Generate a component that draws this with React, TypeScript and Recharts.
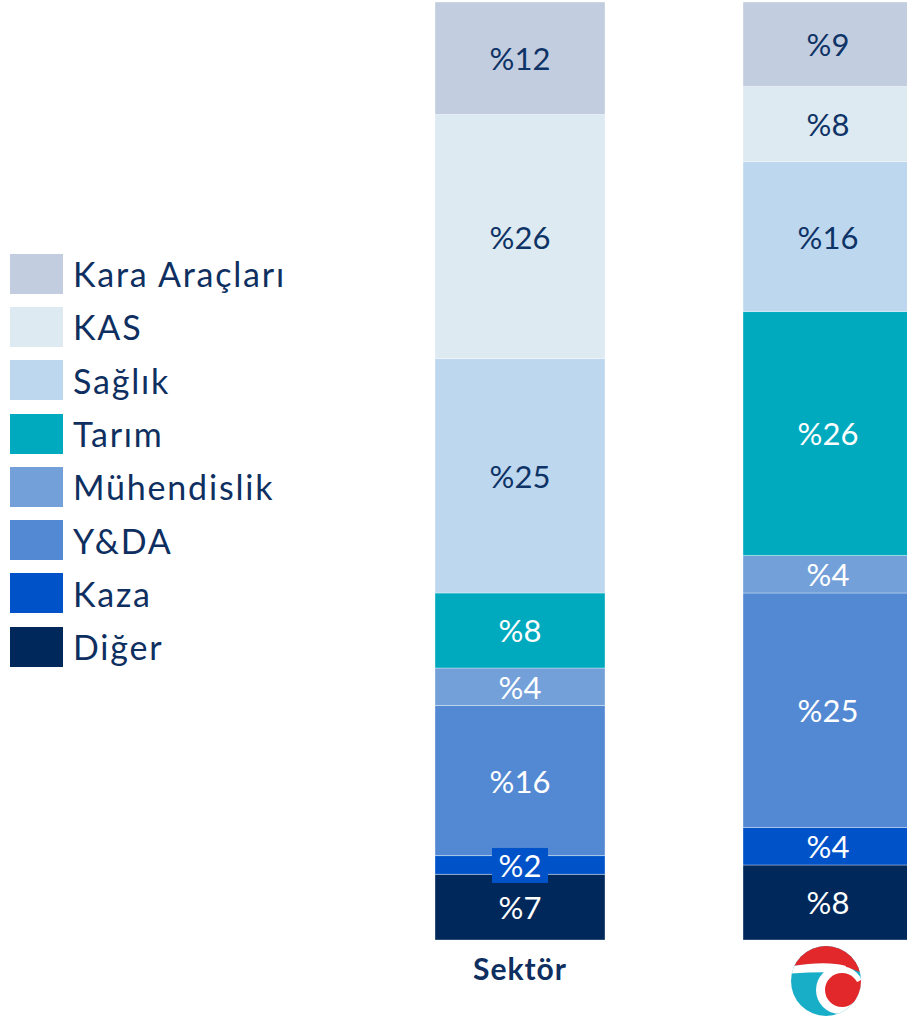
import * as React from 'react';
import { BarChart, Bar, XAxis, YAxis, LabelList } from 'recharts';

const categories = ['Sektör', 'Şirket'];

const diger = [7, 8];
const kaza = [2, 4];
const yda = [16, 25];
const muhendislik = [4, 4];
const tarim = [8, 26];
const saglik = [25, 16];
const kas = [26, 8];
const karaAraclari = [12, 9];

// stack order: bottom first
const series = [
  { key: 'diger', name: 'Diğer', values: diger, color: '#00285A', text: '#ffffff' },
  { key: 'kaza', name: 'Kaza', values: kaza, color: '#0052C9', text: '#ffffff' },
  { key: 'yda', name: 'Y&DA', values: yda, color: '#5389D3', text: '#ffffff' },
  { key: 'muh', name: 'Mühendislik', values: muhendislik, color: '#73A0D9', text: '#ffffff' },
  { key: 'tarim', name: 'Tarım', values: tarim, color: '#00AABE', text: '#ffffff' },
  { key: 'saglik', name: 'Sağlık', values: saglik, color: '#BDD7EE', text: '#0E3366' },
  { key: 'kas', name: 'KAS', values: kas, color: '#DDEAF1', text: '#0E3366' },
  { key: 'kara', name: 'Kara Araçları', values: karaAraclari, color: '#C3CDE0', text: '#0E3366' },
];

const data = categories.map((name, i) => {
  const row: any = { name };
  series.forEach((s) => {
    row[s.key] = s.values[i];
  });
  return row;
});

const FONT = 'Lato, "Open Sans", sans-serif';

const makeLabel = (color: string, text: string) => (props: any) => {
  const { x, y, width, height, value } = props;
  const cx = x + width / 2;
  const cy = y + height / 2;
  const small = height < 30;
  return (
    <g>
      {small && <rect x={cx - 28} y={cy - 17} width={56} height={35} fill={color} />}
      <text
        x={cx}
        y={cy}
        textAnchor="middle"
        dominantBaseline="central"
        fill={text}
        fontSize={31}
        fontFamily={FONT}
      >
        {'%' + value}
      </text>
    </g>
  );
};

const Logo = ({ cx, cy }: { cx: number; cy: number }) => {
  const red = '#E3282C';
  const teal = '#19AEC7';
  const a1 = (-28 * Math.PI) / 180;
  const a2 = (12 * Math.PI) / 180;
  return (
    <g transform={`translate(${cx},${cy})`}>
      <defs>
        <clipPath id="logoClip">
          <circle cx={0} cy={0} r={35} />
        </clipPath>
      </defs>
      <g clipPath="url(#logoClip)">
        <rect x={-40} y={-40} width={80} height={80} fill={teal} />
        <path d="M -40 -40 L 40 -40 L 40 -6 Q 10 -22 -40 -14 Z" fill={red} />
        <circle cx={14} cy={9} r={24} fill="#ffffff" />
        <path d="M -40 -14 Q 0 -21 20 -15 L 18 -8 Q -5 -10 -40 -7 Z" fill="#ffffff" />
        <circle cx={16} cy={9} r={17} fill={red} />
        <path
          d={`M 16 9 L ${16 + 40 * Math.cos(a1)} ${9 + 40 * Math.sin(a1)} L ${16 + 40 * Math.cos(a2)} ${9 + 40 * Math.sin(a2)} Z`}
          fill={red}
        />
      </g>
    </g>
  );
};

const Tick = (props: any) => {
  const { x, y, payload } = props;
  if (payload.value === 'Sektör') {
    return (
      <text
        x={x}
        y={y + 20}
        textAnchor="middle"
        dominantBaseline="central"
        fill="#0E2F5F"
        fontSize={30}
        fontWeight={700}
        letterSpacing={1}
        fontFamily={FONT}
      >
        {payload.value}
      </text>
    );
  }
  return <Logo cx={x - 2} cy={y + 33} />;
};

const LegendBox = () => (
  <div style={{ position: 'absolute', left: 10, top: 254, fontFamily: FONT }}>
    {[...series].reverse().map((s) => (
      <div key={s.key} style={{ display: 'flex', alignItems: 'center', height: 53.3 }}>
        <div style={{ width: 53, height: 40, background: s.color, marginTop: -14 }} />
        <span style={{ marginLeft: 10, fontSize: 34, letterSpacing: 1.8, color: '#0E2F5F', marginTop: -14 }}>{s.name}</span>
      </div>
    ))}
  </div>
);

export default function App() {
  return (
    <div style={{ position: 'absolute', left: 0, top: 0, width: 907, height: 1021, overflow: 'hidden', background: '#fff' }}>
      <LegendBox />
      <BarChart
        width={982}
        height={1021}
        data={data}
        margin={{ top: 2, right: 0, left: 366, bottom: 0 }}
        barSize={170}
      >
        <XAxis dataKey="name" axisLine={false} tickLine={false} height={81} tick={<Tick />} interval={0} />
        <YAxis hide domain={[0, 100]} />
        {series.map((s) => (
          <Bar
            key={s.key}
            dataKey={s.key}
            name={s.name}
            stackId="a"
            fill={s.color}
            stroke="rgba(255,255,255,0.35)"
            strokeWidth={1}
            isAnimationActive={false}
          >
            <LabelList dataKey={s.key} content={makeLabel(s.color, s.text)} />
          </Bar>
        ))}
      </BarChart>
    </div>
  );
}
